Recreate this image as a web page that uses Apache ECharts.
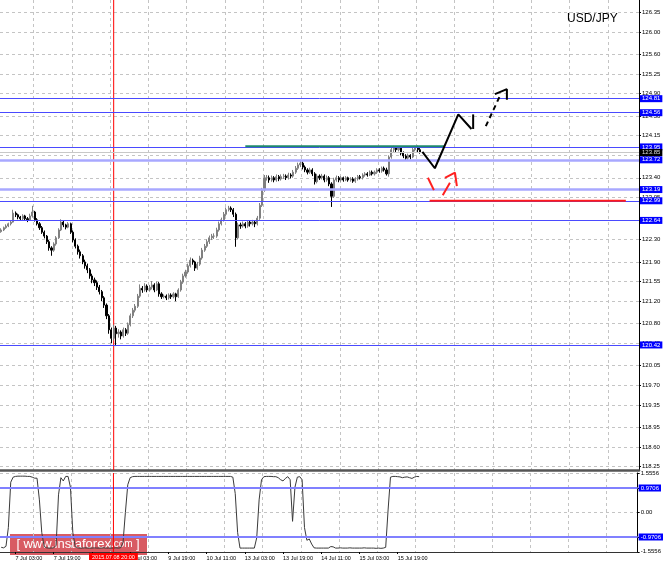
<!DOCTYPE html>
<html><head><meta charset="utf-8">
<script src="https://cdn.jsdelivr.net/npm/echarts@6/dist/echarts.min.js"></script>
<style>html,body{margin:0;padding:0;background:#fff}#c{width:664px;height:565px}</style>
</head><body><div id="c"></div>
<script>
// ---- DATA ----
// hourly candles [open, close, low, high]
const candles = [
[122.44,122.47,122.42,122.50],[122.47,122.51,122.45,122.53],[122.51,122.54,122.49,122.57],[122.54,122.58,122.52,122.60],[122.58,122.61,122.55,122.64],
[122.61,122.77,122.60,122.83],[122.77,122.74,122.70,122.80],[122.74,122.70,122.66,122.76],[122.70,122.67,122.63,122.72],[122.67,122.72,122.64,122.75],
[122.72,122.67,122.64,122.74],[122.67,122.65,122.61,122.70],[122.65,122.72,122.63,122.76],[122.72,122.79,122.69,122.90],[122.79,122.65,122.62,122.81],
[122.65,122.58,122.55,122.68],[122.58,122.51,122.47,122.61],[122.51,122.43,122.40,122.54],[122.43,122.36,122.32,122.46],[122.36,122.26,122.22,122.38],
[122.26,122.15,122.10,122.29],[122.15,122.11,122.01,122.18],[122.11,122.22,122.08,122.25],[122.22,122.33,122.19,122.36],[122.33,122.47,122.31,122.50],
[122.47,122.61,122.45,122.66],[122.61,122.56,122.52,122.63],[122.56,122.52,122.48,122.58],[122.52,122.58,122.50,122.61],[122.58,122.43,122.40,122.60],
[122.43,122.29,122.25,122.46],[122.29,122.18,122.14,122.32],[122.18,122.08,122.03,122.21],[122.08,122.01,121.96,122.12],[122.01,121.90,121.86,122.04],
[121.90,121.83,121.78,121.94],[121.83,121.76,121.70,121.87],[121.76,121.65,121.60,121.79],[121.65,121.58,121.52,121.69],[121.58,121.53,121.47,121.62],
[121.53,121.45,121.40,121.57],[121.45,121.37,121.32,121.49],[121.37,121.26,121.20,121.40],[121.26,121.13,121.08,121.29],[121.13,120.94,120.88,121.16],
[120.94,120.69,120.62,120.97],[120.69,120.54,120.45,120.73],[120.54,120.72,120.50,120.78],[120.72,120.62,120.40,120.76],[120.62,120.65,120.55,120.70],
[120.65,120.58,120.52,120.68],[120.58,120.69,120.55,120.73],[120.69,120.63,120.58,120.72],[120.63,120.78,120.60,120.82],[120.78,120.94,120.75,120.98],
[120.94,121.04,120.90,121.08],[121.04,121.11,121.00,121.15],[121.11,121.29,121.08,121.33],[121.29,121.43,121.26,121.50],[121.43,121.40,121.35,121.47],
[121.40,121.47,121.37,121.52],[121.47,121.40,121.36,121.50],[121.40,121.45,121.37,121.49],[121.45,121.49,121.41,121.56],[121.49,121.40,121.36,121.52],
[121.40,121.51,121.38,121.55],[121.51,121.33,121.28,121.54],[121.33,121.28,121.24,121.36],[121.28,121.29,121.25,121.32],[121.29,121.26,121.22,121.32],
[121.26,121.31,121.23,121.34],[121.31,121.28,121.24,121.34],[121.28,121.33,121.25,121.36],[121.33,121.28,121.20,121.35],[121.28,121.40,121.26,121.43],
[121.40,121.54,121.37,121.58],[121.54,121.65,121.51,121.69],[121.65,121.72,121.62,121.76],[121.72,121.83,121.69,121.87],[121.83,121.93,121.80,121.98],
[121.93,121.90,121.85,121.96],[121.90,121.79,121.74,121.92],[121.79,121.86,121.76,121.90],[121.86,121.97,121.83,122.01],[121.97,122.11,121.94,122.15],
[122.11,122.18,122.08,122.22],[122.18,122.26,122.15,122.30],[122.26,122.33,122.22,122.37],[122.33,122.36,122.29,122.40],[122.36,122.36,122.31,122.41],
[122.36,122.47,122.33,122.51],[122.47,122.58,122.44,122.62],[122.58,122.65,122.55,122.69],[122.65,122.75,122.62,122.79],[122.75,122.83,122.72,122.87],
[122.83,122.86,122.80,122.90],[122.86,122.83,122.79,122.89],[122.83,122.75,122.70,122.86],[122.75,122.33,122.17,122.78],[122.33,122.56,122.30,122.60],
[122.56,122.54,122.49,122.60],[122.54,122.58,122.51,122.62],[122.58,122.54,122.50,122.61],[122.54,122.61,122.51,122.64],[122.61,122.58,122.53,122.64],
[122.58,122.61,122.55,122.65],[122.61,122.58,122.52,122.64],[122.58,122.68,122.55,122.72],[122.68,122.91,122.65,122.95],[122.91,123.18,122.88,123.22],
[123.18,123.40,123.15,123.45],[123.40,123.40,123.35,123.45],[123.40,123.36,123.31,123.44],[123.36,123.40,123.33,123.44],[123.40,123.36,123.32,123.43],
[123.36,123.42,123.33,123.46],[123.42,123.38,123.34,123.45],[123.38,123.42,123.35,123.46],[123.42,123.43,123.38,123.47],[123.43,123.40,123.36,123.46],
[123.40,123.45,123.37,123.49],[123.45,123.43,123.39,123.48],[123.43,123.50,123.40,123.54],[123.50,123.57,123.47,123.61],[123.57,123.63,123.54,123.67],
[123.63,123.66,123.59,123.72],[123.66,123.59,123.55,123.69],[123.59,123.54,123.50,123.62],[123.54,123.50,123.46,123.57],[123.50,123.54,123.47,123.58],
[123.54,123.47,123.43,123.57],[123.47,123.33,123.28,123.50],[123.33,123.43,123.30,123.47],[123.43,123.40,123.36,123.46],[123.40,123.43,123.37,123.47],
[123.43,123.36,123.32,123.46],[123.36,123.40,123.33,123.44],[123.40,123.29,123.25,123.43],[123.29,123.07,122.88,123.32],[123.07,123.36,123.04,123.40],
[123.36,123.40,123.33,123.44],[123.40,123.36,123.32,123.43],[123.36,123.40,123.33,123.43],[123.40,123.36,123.33,123.42],[123.36,123.40,123.34,123.43],
[123.40,123.36,123.33,123.42],[123.36,123.38,123.33,123.41],[123.38,123.34,123.31,123.41],[123.34,123.38,123.31,123.41],[123.38,123.42,123.35,123.45],
[123.42,123.40,123.37,123.45],[123.40,123.45,123.37,123.48],[123.45,123.47,123.42,123.50],[123.47,123.45,123.42,123.50],[123.45,123.50,123.43,123.53],
[123.50,123.47,123.44,123.53],[123.47,123.50,123.44,123.53],[123.50,123.54,123.47,123.57],[123.54,123.52,123.49,123.57],[123.52,123.57,123.49,123.60],
[123.57,123.54,123.51,123.60],[123.54,123.47,123.44,123.58],[123.47,123.77,123.42,123.80],[123.77,123.90,123.74,123.94],[123.90,123.93,123.86,123.97],
[123.93,123.90,123.86,123.96],[123.90,123.93,123.87,123.96],[123.93,123.84,123.80,123.95],[123.84,123.79,123.75,123.87],[123.79,123.75,123.71,123.82],
[123.75,123.80,123.72,123.83],[123.80,123.77,123.73,123.82],[123.77,123.90,123.75,123.93],[123.90,123.95,123.87,123.97],[123.95,123.90,123.86,123.97],
[123.90,123.86,123.83,123.93]
];
// oscillator (lower panel), one value per candle
const oscValues = [
-1.38,-1.40,-1.34,-0.60,1.20,1.40,1.43,1.44,1.44,1.44,
1.44,1.43,1.43,1.40,1.36,1.36,0.50,-0.80,-1.35,-1.40,
-1.41,-1.41,-1.40,-1.30,0.70,1.38,1.25,1.43,1.43,1.00,
-0.80,-1.35,-1.40,-1.41,-1.41,-1.40,-1.41,-1.41,-1.41,-1.40,
-1.41,-1.41,-1.41,-1.40,-1.41,-1.41,-1.41,-1.41,-1.40,-1.41,
-1.40,-1.20,0.00,1.10,1.38,1.42,1.43,1.43,1.43,1.43,
1.43,1.43,1.43,1.43,1.43,1.43,1.43,1.43,1.43,1.43,
1.43,1.43,1.43,1.43,1.43,1.43,1.43,1.43,1.43,1.43,
1.43,1.43,1.43,1.43,1.43,1.43,1.43,1.43,1.43,1.43,
1.43,1.43,1.43,1.43,1.43,1.43,1.43,1.40,0.75,-0.80,
-1.41,-1.41,-1.41,-1.41,-1.41,-1.41,-1.41,-1.00,0.50,1.30,
1.42,1.43,1.43,1.43,1.42,1.42,1.38,1.30,1.25,1.35,
1.42,1.30,-0.35,1.00,1.40,1.42,1.30,-0.60,-1.10,-1.05,
-1.25,-1.40,-1.41,-1.41,-1.41,-1.41,-1.41,-1.41,-1.35,-1.36,
-1.41,-1.41,-1.40,-1.41,-1.41,-1.41,-1.40,-1.41,-1.41,-1.41,
-1.41,-1.41,-1.40,-1.41,-1.41,-1.41,-1.41,-1.42,-1.41,-1.42,
-1.41,-1.38,0.10,1.40,1.43,1.43,1.42,1.41,1.38,1.40,
1.41,1.38,1.35,1.40,1.43,1.42
];
const barCount = 267;
const priceMin = 118.191, priceMax = 126.569;
const oscMin = -1.5652, oscMax = 1.5652;
const priceTicks = [126.35,126.00,125.60,125.25,124.90,124.50,124.15,123.80,123.40,123.05,122.65,122.30,121.90,121.55,121.20,120.80,120.45,120.05,119.70,119.35,118.95,118.60,118.25];
const oscTicks = [1.5556,0.9706,0,-0.9706,-1.5556];
const timeTickIdx = [6,22,38,54,70,86,102,118,134,150,166];
const timeTickText = ['7 Jul 03:00','7 Jul 19:00','8 Jul 11:00','9 Jul 03:00','9 Jul 19:00','10 Jul 11:00','13 Jul 03:00','13 Jul 19:00','14 Jul 11:00','15 Jul 03:00','15 Jul 19:00'];
const blueLevels = [124.81,124.56,123.95,122.99,122.64,120.42];
const lightLevels = [123.72,123.19];
const lastPrice = 123.85;
const oscLevels = [0.9706,-0.9706];
const markerBar = 47;
const markerText = '2015.07.08 20:00';
const symbolName = 'USD/JPY';
// drawn annotations [bar index, price]
const resistanceSeg = [[102,123.96],[185.4,123.96]];
const supportSeg = [[179,122.99],[261,122.99]];
const blackPath = [[176,123.86],[181.2,123.57],[191.0,124.53],[196.5,124.27]];
const blackTick = [[197.2,124.27],[197.2,124.53]];
const blackDash = [[202.5,124.32],[208.4,124.86]];
const blackHead = [[206.3,124.89],[211.3,124.98],[211.3,124.79]];
const redSeg1 = [[178.3,123.40],[180.8,123.18]];
const redSeg2 = [[184.5,123.09],[187.5,123.31]];
const redHead = [[185.4,123.40],[189.6,123.49],[190.4,123.25]];

// ---- CHART ----
const F = 'Liberation Sans';
const cats = Array.from({length: barCount}, (_, i) => String(i));
const gridLineIdx = i => i >= 14 && (i - 14) % 16 === 0;
const dashGrid = {show: true, lineStyle: {color: '#c4c4c4', type: [3, 3], width: 1}};
const lvlLabel = (bg, fg, dec) => ({show: true, position: 'end', distance: 1, formatter: p => Number(p.value).toFixed(dec),
  backgroundColor: bg, color: fg, fontSize: 6, fontFamily: F, padding: [1, 2, 0, 2], lineHeight: 6});

const mainMarks = [];
blueLevels.forEach(v => mainMarks.push({yAxis: v, lineStyle: {color: '#4a4aff', width: 1, type: 'solid'}, label: lvlLabel('#0000ff', '#fff', 2)}));
lightLevels.forEach(v => mainMarks.push({yAxis: v, lineStyle: {color: '#a8a8ff', width: 2.5, type: 'solid'}, label: lvlLabel('#0000ff', '#fff', 2)}));
mainMarks.push({yAxis: lastPrice, lineStyle: {color: '#c8c8c8', width: 1, type: 'solid'}, label: lvlLabel('#000', '#ddd', 2)});

const oscMarks = oscLevels.map(v => ({yAxis: v, lineStyle: {color: '#8080ff', width: 2, type: 'solid'}, label: lvlLabel('#0000ff', '#fff', 4)}));

const annot = (data, color, width, type, xi, yi) => ({type: 'line', xAxisIndex: xi == null ? 2 : xi, yAxisIndex: yi == null ? 0 : yi, data: data, symbol: 'none', silent: true, z: 5,
  itemStyle: {color: color}, lineStyle: {color: color, width: width, type: type || 'solid'}, animation: false});

const markerMain = annot([[markerBar, priceMin], [markerBar, priceMax]], '#ff0000', 1, 'solid', 2, 0);
markerMain.z = 3;
const markerOsc = annot([[markerBar, oscMin], [markerBar, oscMax]], '#ff0000', 1, 'solid', 3, 1);
markerOsc.z = 6;
markerOsc.markPoint = {silent: true, animation: false, symbol: 'rect', symbolSize: [2, 2], itemStyle: {color: 'rgba(255,0,0,0)'},
  data: [{coord: [markerBar, oscMin], itemStyle: {color: 'rgba(255,0,0,0)'},
    label: {show: true, position: 'bottom', distance: 0, formatter: markerText,
    backgroundColor: '#ff0000', color: '#fff', fontSize: 5.5, fontFamily: F, padding: [1, 3, 0, 3], lineHeight: 6}}]};

const chart = echarts.init(document.getElementById('c'), null, {renderer: 'canvas'});
chart.setOption({
  animation: false,
  backgroundColor: '#fff',
  title: {text: symbolName, left: 562, top: 8, textStyle: {fontSize: 12, fontWeight: 'normal', color: '#000', fontFamily: F}},
  grid: [
    {left: 0, top: 0, width: 639, height: 470},
    {left: 0, top: 473, width: 639, height: 79}
  ],
  xAxis: [
    {type: 'category', gridIndex: 0, data: cats, boundaryGap: true,
     axisLine: {show: true, onZero: false, lineStyle: {color: '#555', width: 2.5}}, axisTick: {show: false}, axisLabel: {show: false},
     splitLine: Object.assign({interval: gridLineIdx}, dashGrid)},
    {type: 'category', gridIndex: 1, data: cats, boundaryGap: true,
     axisLine: {show: true, onZero: false, lineStyle: {color: '#333', width: 1}},
     axisTick: {show: true, alignWithLabel: true, length: 2, interval: (i) => timeTickIdx.indexOf(i) >= 0, lineStyle: {color: '#000'}},
     axisLabel: {show: true, interval: (i) => timeTickIdx.indexOf(i) >= 0, align: 'left', margin: 3, fontSize: 5.5, fontFamily: F, color: '#000',
       formatter: (v, i) => { const k = timeTickIdx.indexOf(Number(v)); return k >= 0 ? timeTickText[k] : ''; }},
     splitLine: Object.assign({interval: gridLineIdx}, dashGrid)},
    {type: 'value', gridIndex: 0, min: -0.5, max: barCount - 0.5, show: false, axisLine: {onZero: false}},
    {type: 'value', gridIndex: 1, min: -0.5, max: barCount - 0.5, show: false, axisLine: {onZero: false}}
  ],
  yAxis: [
    {type: 'value', gridIndex: 0, position: 'right', min: priceMin, max: priceMax,
     axisLine: {show: true, onZero: false, lineStyle: {color: '#000', width: 1}},
     axisTick: {show: true, length: 2, customValues: priceTicks, lineStyle: {color: '#000'}},
     axisLabel: {show: true, customValues: priceTicks, formatter: v => Number(v).toFixed(2), margin: 3, fontSize: 6, fontFamily: F, color: '#000'},
     splitLine: dashGrid},
    {type: 'value', gridIndex: 1, position: 'right', min: oscMin, max: oscMax,
     axisLine: {show: true, onZero: false, lineStyle: {color: '#000', width: 1}},
     axisTick: {show: true, length: 2, customValues: oscTicks, lineStyle: {color: '#000'}},
     axisLabel: {show: true, customValues: oscTicks, formatter: v => (Number(v) === 0 ? '0.00' : Number(v).toFixed(4)), margin: 3, fontSize: 6, fontFamily: F, color: '#000'},
     splitLine: dashGrid}
  ],
  series: [
    markerMain,
    markerOsc,
    {type: 'candlestick', xAxisIndex: 0, yAxisIndex: 0, data: candles, barWidth: 1.6, silent: true, z: 4,
     itemStyle: {color: '#808080', color0: '#000000', borderColor: '#808080', borderColor0: '#000000', borderWidth: 1},
     markLine: {symbol: ['none', 'none'], silent: true, animation: false, precision: 4, data: mainMarks}},
    {type: 'line', xAxisIndex: 1, yAxisIndex: 1, data: oscValues, symbol: 'none', silent: true, z: 4,
     itemStyle: {color: '#3a3a3a'}, lineStyle: {color: '#3a3a3a', width: 1},
     markLine: {symbol: ['none', 'none'], silent: true, animation: false, precision: 4, data: oscMarks}},
    annot(resistanceSeg, '#1f8a6c', 2),
    annot(supportSeg, '#ff1a1a', 2),
    annot(blackPath, '#000', 2),
    annot(blackTick, '#000', 2),
    annot(blackDash, '#000', 2, [5, 4]),
    annot(blackHead, '#000', 2),
    annot(redSeg1, '#ff2020', 2),
    annot(redSeg2, '#ff2020', 2),
    annot(redHead, '#ff2020', 2)
  ],
  graphic: [
    {type: 'group', left: 10, top: 534, z: 100, children: [
      {type: 'rect', shape: {x: 0, y: 0, width: 137, height: 21}, style: {fill: 'rgba(205,45,55,0.78)'}},
      {type: 'text', x: 68, y: 10.5, style: {text: '{b|[} {a|www.instaforex}{c|.com} {b|]}', align: 'center', verticalAlign: 'middle',
        rich: {a: {fontSize: 13, fontFamily: F, fill: '#fff'}, b: {fontSize: 13, fontFamily: F, fill: '#fff'}, c: {fontSize: 10, fontFamily: F, fill: '#fff'}}}}
    ]}
  ]
});
</script>
</body></html>
